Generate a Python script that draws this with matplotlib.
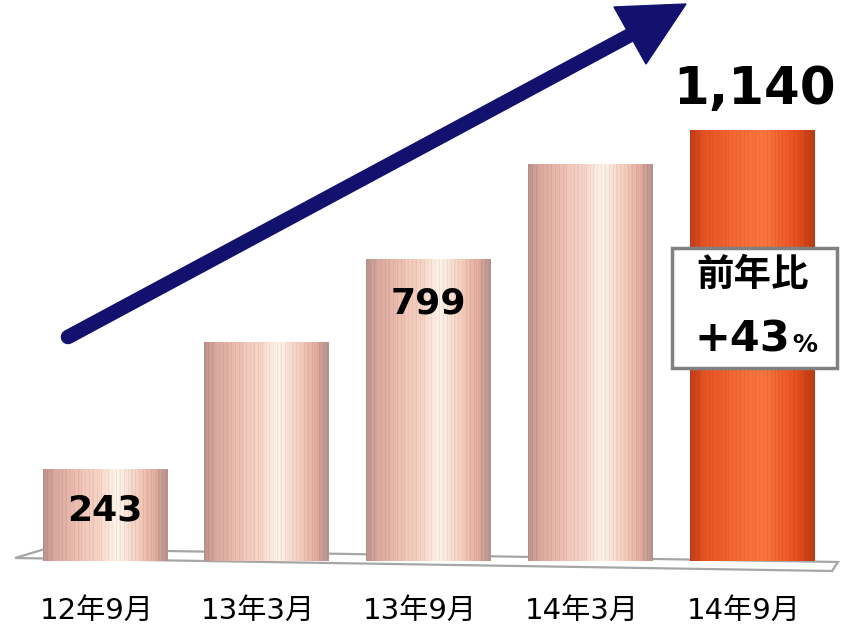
import numpy as np
import matplotlib.pyplot as plt
from matplotlib.patches import Polygon, Rectangle
from matplotlib.lines import Line2D

plt.rcParams['font.family'] = ['DejaVu Sans', 'Noto Sans CJK JP']

# data
periods = ['12年9月', '13年3月', '13年9月', '14年3月', '14年9月']
values = [243, 580, 799, 1050, 1140]
shown = {0: '243', 2: '799'}
yoy_label = '前年比'
yoy_value = '+43'

W, H = 850, 636
fig = plt.figure(figsize=(W / 100, H / 100), dpi=100)

# background layer in pixel coords: floor plate and trend arrow
bg = fig.add_axes([0, 0, 1, 1])
bg.set_xlim(0, W)
bg.set_ylim(H, 0)
bg.axis('off')
bg.add_patch(Polygon([(15, 558), (45, 549), (838, 562), (832, 571)],
                     closed=True, fc='white', ec='#a6a6a6', lw=1.6))
bg.add_line(Line2D([68, 634], [337, 33], color='#13116e', lw=10.5,
                   solid_capstyle='round'))
bg.add_patch(Polygon([(686, 4), (614, 7), (646, 64)], closed=True,
                     fc='#13116e', ec='#13116e', lw=1))

# bars
base_px, top_px = 561, 69.6
ymax = 1300
ax = fig.add_axes([24 / W, (H - base_px) / H, (833 - 24) / W,
                   (base_px - top_px) / H], zorder=1)
ax.patch.set_visible(False)
ax.set_xlim(-0.5, 4.5)
ax.set_ylim(0, ymax)
for s in ax.spines.values():
    s.set_visible(False)
ax.set_yticks([])


def cylinder_shade(stops, n=130):
    pos = np.array([p for p, _ in stops])
    cols = np.array([c for _, c in stops], dtype=float)
    x = np.linspace(0, 1, n)
    img = np.stack([np.interp(x, pos, cols[:, k]) for k in range(3)], axis=1)
    # fine vertical pinstripes
    stripe = np.ones(n)
    stripe[::4] = 0.94
    stripe[2::7] = 0.97
    img = img * stripe[:, None]
    return np.clip(img / 255.0, 0, 1)[None, :, :]


pink = [(0.0, (188, 150, 144)), (0.07, (214, 164, 154)), (0.25, (238, 190, 176)),
        (0.45, (248, 214, 200)), (0.6, (255, 244, 234)), (0.75, (246, 210, 194)),
        (0.9, (228, 172, 156)), (1.0, (180, 148, 142))]
orange = [(0.0, (198, 62, 22)), (0.12, (232, 84, 36)), (0.45, (250, 112, 58)),
          (0.6, (252, 118, 62)), (0.85, (232, 80, 32)), (1.0, (192, 58, 18))]

bw = 0.77
bars = ax.bar(range(len(values)), values, width=bw, color='none', lw=0)
for i, b in enumerate(bars):
    shade = cylinder_shade(orange if i == len(values) - 1 else pink)
    x0, h = b.get_x(), b.get_height()
    im = ax.imshow(shade, extent=[x0, x0 + bw, 0, h], aspect='auto',
                   interpolation='nearest', zorder=2)
    im.set_clip_path(b)
ax.set_xlim(-0.5, 4.5)
ax.set_ylim(0, ymax)

# value labels
ax.text(0, values[0] * 0.555, shown[0], ha='center', va='center',
        fontsize=26, fontweight='bold', zorder=5)
ax.text(2, values[2] * 0.854, shown[2], ha='center', va='center',
        fontsize=26, fontweight='bold', zorder=5)
ax.annotate(f'{values[4]:,}', (4, values[4]), xytext=(2, 11),
            textcoords='offset points', ha='center', va='bottom',
            fontsize=37, fontweight='bold')

# period labels, nudged a little left as on the tilted floor
ax.set_xticks([])
for k, p in enumerate(periods):
    ax.annotate(p, (k, 0), xytext=(-6, -36), textcoords='offset points',
                ha='center', va='center', fontsize=21, annotation_clip=False)

# year-on-year box over the last bar
fg = fig.add_axes([0, 0, 1, 1], zorder=2)
fg.set_xlim(0, W)
fg.set_ylim(H, 0)
fg.axis('off')
fg.add_patch(Rectangle((672, 248), 165, 120, fc='white', ec='#808080', lw=2.5))
fg.text(753, 274, yoy_label, ha='center', va='center', fontsize=27,
        fontweight='bold', family=['Noto Sans CJK JP'])
fg.text(790, 352, yoy_value, ha='right', va='baseline', fontsize=31,
        fontweight='bold')
fg.text(792, 352, '%', ha='left', va='baseline', fontsize=18,
        fontweight='bold')

fig.savefig('out.png', dpi=100)
